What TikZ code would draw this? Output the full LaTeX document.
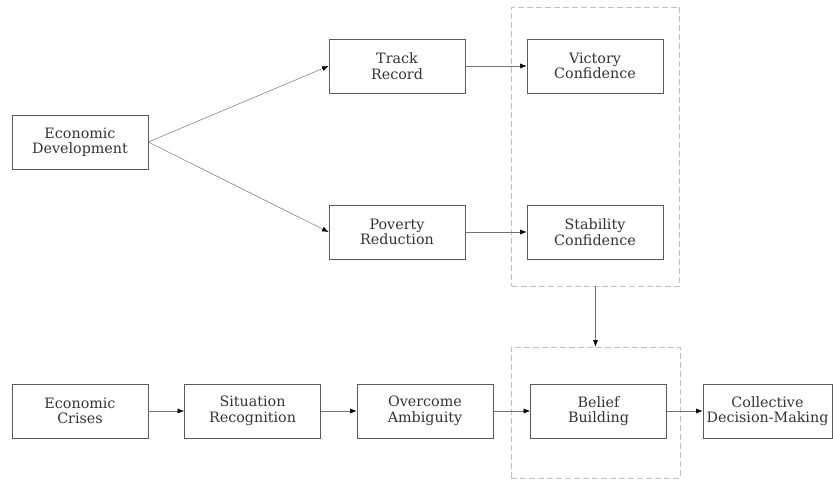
\documentclass[tikz,border=0pt]{standalone}
\usepackage{fontspec}
\setmainfont{DejaVu Serif}
\usetikzlibrary{arrows.meta}
\begin{document}
\begin{tikzpicture}[x=1pt,y=-1pt,
  box/.style={draw=black!65,line width=0.8pt,minimum width=136pt,minimum height=54pt,inner sep=0pt,align=center,font=\fontsize{14.3}{15.5}\selectfont,text=black!80},
  dashbox/.style={draw=black!25,dashed,dash pattern=on 6pt off 3pt,line width=0.8pt,inner sep=0pt},
  arr/.style={draw=black!55,line width=0.5pt,-{Latex[length=6.5pt,width=5pt,black]}}]
\useasboundingbox (0,0) rectangle (833,480);
\node[dashbox,minimum width=168pt,minimum height=279pt] (g1) at (595.5,146.5) {};
\node[dashbox,minimum width=169pt,minimum height=131pt] (g2) at (595.5,412.5) {};
\node[box] (ed) at (80,142) {Economic\\Development};
\node[box] (tr) at (397,66) {Track\\Record};
\node[box] (pr) at (397,232) {Poverty\\Reduction};
\node[box] (vc) at (595,66) {Victory\\Confidence};
\node[box] (sc) at (595,232) {Stability\\Confidence};
\node[box] (ec) at (80,411) {Economic\\Crises};
\node[box] (sr) at (252.5,411) {Situation\\Recognition};
\node[box] (oa) at (425,411) {Overcome\\Ambiguity};
\node[box] (bb) at (598.5,411) {Belief\\Building};
\node[box,minimum width=129pt] (cd) at (767.5,411) {Collective\\Decision-Making};
\draw[arr] (ed.east) -- (tr.west);
\draw[arr] (ed.east) -- (pr.west);
\draw[arr] (tr) -- (vc);
\draw[arr] (pr) -- (sc);
\draw[arr] (g1.south) -- (g2.north);
\draw[arr] (ec) -- (sr);
\draw[arr] (sr) -- (oa);
\draw[arr] (oa) -- (bb);
\draw[arr] (bb) -- (cd);
\end{tikzpicture}
\end{document}
